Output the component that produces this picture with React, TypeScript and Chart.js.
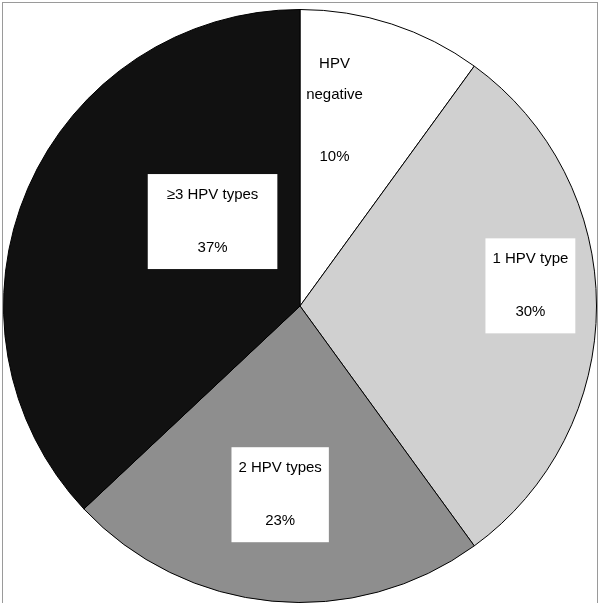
import { useEffect, useRef } from 'react';
import { Chart, registerables } from 'chart.js';

Chart.register(...registerables);

const categories = ['HPV negative', '1 HPV type', '2 HPV types', '\u22653 HPV types'];
const shares = [10, 30, 23, 37];
const sliceColors = ['#ffffff', '#d0d0d0', '#8e8e8e', '#111111'];
// label lines per slice
const labelLines = [['HPV', 'negative', '', '10%'], ['1 HPV type', '30%'], ['2 HPV types', '23%'], ['\u22653 HPV types', '37%']];
// label placement: angle (deg clockwise from top) and fraction of radius
const labelAngles = [10, 85, 186, 314];
const labelRadii = [0.67, 0.78, 0.64, 0.41];
const boxPads = [0, 14, 14, 38];

const labelPlugin = {
  id: 'boxLabels',
  afterDraw(chart: any) {
    const ctx = chart.ctx;
    const arc = chart.getDatasetMeta(0).data[0];
    const cx = arc.x, cy = arc.y, r = arc.outerRadius;
    ctx.save();
    ctx.font = '15px "Liberation Sans", Arial, sans-serif';
    ctx.textAlign = 'center';
    ctx.textBaseline = 'middle';
    labelLines.forEach((lines, i) => {
      const a = (labelAngles[i] * Math.PI) / 180;
      const x = cx + Math.sin(a) * r * labelRadii[i];
      const y = cy - Math.cos(a) * r * labelRadii[i];
      const gap = lines.length === 2 ? 53 : 31;
      if (boxPads[i] > 0) {
        const w = Math.max(...lines.map((l) => ctx.measureText(l).width)) + boxPads[i];
        const h = 95;
        ctx.fillStyle = '#ffffff';
        ctx.fillRect(x - w / 2, y - h / 2, w, h);
      }
      ctx.fillStyle = '#000000';
      const start = y - ((lines.length - 1) * gap) / 2;
      lines.forEach((l, k) => ctx.fillText(l, x, start + k * gap));
    });
    ctx.strokeStyle = '#9a9a9a';
    ctx.lineWidth = 1;
    ctx.strokeRect(2.5, 2.5, chart.width - 5, chart.height);
    ctx.restore();
  },
};

export default function App() {
  const canvasRef = useRef<HTMLCanvasElement>(null);

  useEffect(() => {
    if (!canvasRef.current) return;
    const chart = new Chart(canvasRef.current, {
      type: 'pie',
      data: {
        labels: categories,
        datasets: [{ data: shares, backgroundColor: sliceColors, borderColor: '#000000', borderWidth: 1 }],
      },
      options: {
        animation: false,
        responsive: false,
        layout: { padding: { top: 9, bottom: 0, left: 3, right: 3 } },
        plugins: { legend: { display: false }, tooltip: { enabled: false } },
      },
      plugins: [labelPlugin],
    });
    return () => chart.destroy();
  }, []);

  return (
    <div style={{ position: 'absolute', left: 0, top: 0, width: 600, height: 603, background: '#fff' }}>
      <canvas ref={canvasRef} width={600} height={603} />
    </div>
  );
}
